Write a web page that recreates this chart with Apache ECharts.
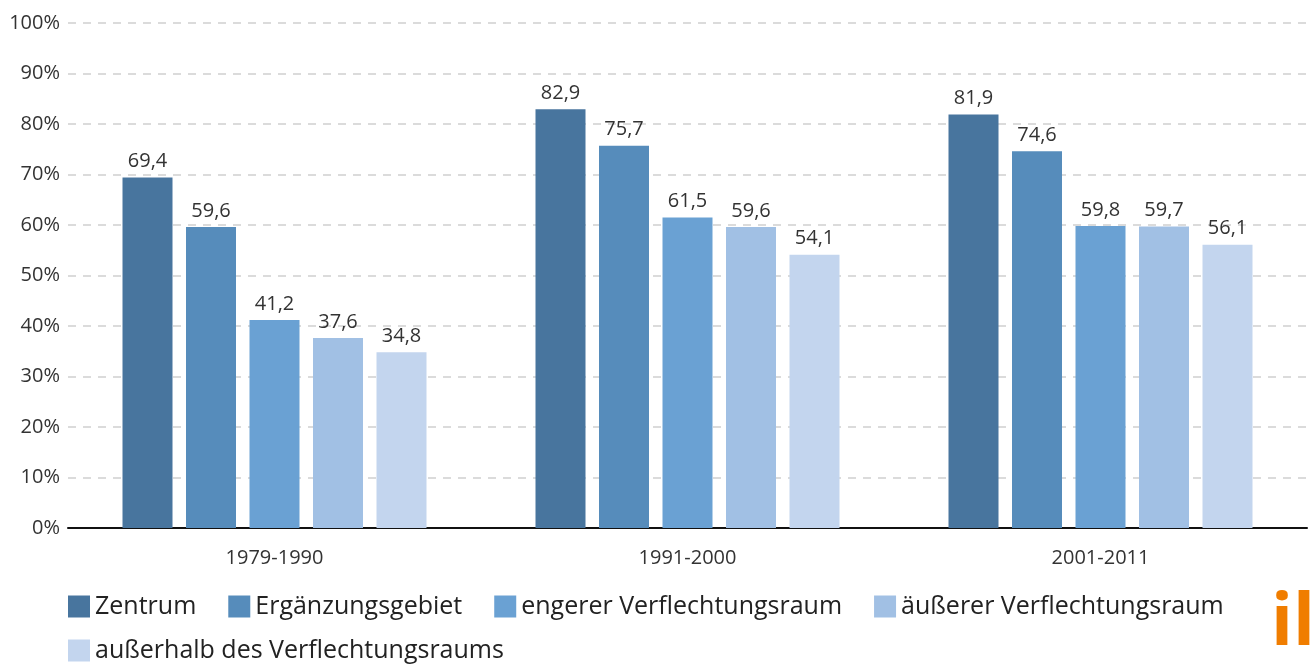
<!DOCTYPE html>
<html>
<head>
<meta charset="utf-8">
<script src="https://cdn.jsdelivr.net/npm/echarts@6/dist/echarts.min.js"></script>
<style>
  html, body { margin: 0; padding: 0; background: #fff; }
  #chart { width: 1310px; height: 665px; }
</style>
</head>
<body>
<div id="chart"></div>
<script>
// Zeiträume (x-Achse)
var categories = ['1979-1990', '1991-2000', '2001-2011'];
// Raumtypen (Legende)
var seriesNames = ['Zentrum', 'Ergänzungsgebiet', 'engerer Verflechtungsraum', 'äußerer Verflechtungsraum', 'außerhalb des Verflechtungsraums'];
var zentrum = [69.4, 82.9, 81.9];
var ergaenzung = [59.6, 75.7, 74.6];
var engerer = [41.2, 61.5, 59.8];
var aeusserer = [37.6, 59.6, 59.7];
var ausserhalb = [34.8, 54.1, 56.1];
var yTicks = [0, 10, 20, 30, 40, 50, 60, 70, 80, 90, 100];

var colors = ['#48759e', '#568cbb', '#6aa1d3', '#a1c0e4', '#c3d5ee'];
var font = '"Open Sans", "Noto Sans", sans-serif';

var chart = echarts.init(document.getElementById('chart'));

function makeSeries(name, data, i) {
  return {
    name: name,
    type: 'bar',
    data: data,
    barWidth: 50,
    barGap: '27%',
    itemStyle: { color: colors[i] },
    label: {
      show: true,
      position: 'top',
      distance: 6,
      fontFamily: font,
      fontSize: 20,
      color: '#333',
      formatter: function (p) { return p.value.toFixed(1).replace('.', ','); }
    }
  };
}

// zwei Legendenzeilen wie im Original
var legendBase = {
  left: 68,
  padding: 0,
  itemWidth: 22,
  itemHeight: 22,
  itemGap: 32,
  icon: 'rect',
  textStyle: { fontFamily: font, fontSize: 25, color: '#222' }
};

var option = {
  animation: false,
  color: colors,
  grid: { left: 68, right: 3, top: 23, bottom: 137 },
  legend: [
    Object.assign({}, legendBase, { top: 594, data: seriesNames.slice(0, 4) }),
    Object.assign({}, legendBase, { top: 638, data: seriesNames.slice(4) })
  ],
  xAxis: {
    type: 'category',
    data: categories,
    axisLine: { lineStyle: { color: '#111', width: 2 } },
    axisTick: { show: false },
    axisLabel: { fontFamily: font, fontSize: 20, color: '#333', margin: 20 }
  },
  yAxis: {
    type: 'value',
    min: yTicks[0],
    max: yTicks[yTicks.length - 1],
    interval: 10,
    axisLine: { show: false },
    axisTick: { show: false },
    axisLabel: { fontFamily: font, fontSize: 20, color: '#333', margin: 8, formatter: '{value}%' },
    splitLine: { lineStyle: { color: '#d0d0d0', width: 1.5, type: [8, 7] } }
  },
  series: [
    makeSeries(seriesNames[0], zentrum, 0),
    makeSeries(seriesNames[1], ergaenzung, 1),
    makeSeries(seriesNames[2], engerer, 2),
    makeSeries(seriesNames[3], aeusserer, 3),
    makeSeries(seriesNames[4], ausserhalb, 4)
  ],
  graphic: [{
    type: 'text',
    left: 1271,
    top: 588,
    style: { text: 'ils', fontFamily: font, fontWeight: 'bold', fontSize: 72, fill: '#f07d00' }
  }]
};

chart.setOption(option);
</script>
</body>
</html>
